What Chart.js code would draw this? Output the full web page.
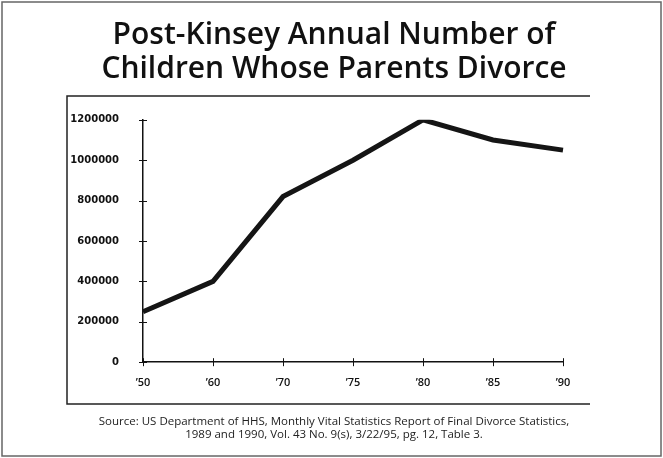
<!DOCTYPE html>
<html>
<head>
<meta charset="utf-8">
<script src="https://cdn.jsdelivr.net/npm/chart.js@4"></script>
<style>
  html, body { margin: 0; padding: 0; background: #fff; }
  #wrap { width: 663px; height: 458px; }
</style>
</head>
<body>
<div id="wrap"><canvas id="chart"></canvas></div>
<script>
const years = ['\u201950', '\u201960', '\u201970', '\u201975', '\u201980', '\u201985', '\u201990'];
const children = [250000, 400000, 820000, 1000000, 1200000, 1100000, 1050000];
const yTicks = [0, 200000, 400000, 600000, 800000, 1000000, 1200000];
const titleLines = ['Post-Kinsey Annual Number of', 'Children Whose Parents Divorce'];
const sourceLines = [
  'Source: US Department of HHS, Monthly Vital Statistics Report of Final Divorce Statistics,',
  '1989 and 1990, Vol. 43 No. 9(s), 3/22/95, pg. 12, Table 3.'
];

// frame around the page and the open-right box round the plot
const frame = {
  id: 'frame',
  beforeDraw(chart) {
    const ctx = chart.ctx;
    ctx.save();
    ctx.strokeStyle = '#666';
    ctx.lineWidth = 1.5;
    ctx.strokeRect(2, 2, 659, 454);
    ctx.strokeStyle = '#222';
    ctx.lineWidth = 1.5;
    ctx.beginPath();
    ctx.moveTo(590, 96);
    ctx.lineTo(67, 96);
    ctx.lineTo(67, 404);
    ctx.lineTo(590, 404);
    ctx.stroke();
    ctx.restore();
  }
};

// tick marks that cross the axis lines
const crossTicks = {
  id: 'crossTicks',
  afterDatasetsDraw(chart) {
    const ctx = chart.ctx;
    const x = chart.scales.x, y = chart.scales.y;
    ctx.save();
    ctx.strokeStyle = '#111';
    ctx.lineWidth = 1;
    ctx.beginPath();
    y.ticks.forEach((t, i) => {
      const py = Math.round(y.getPixelForTick(i)) + 0.5;
      ctx.moveTo(x.left - 4, py);
      ctx.lineTo(x.left + 4, py);
    });
    x.ticks.forEach((t, i) => {
      const px = Math.round(x.getPixelForTick(i)) + 0.5;
      ctx.moveTo(px, y.bottom - 4);
      ctx.lineTo(px, y.bottom + 4);
    });
    ctx.stroke();
    ctx.restore();
  }
};

new Chart(document.getElementById('chart'), {
  type: 'line',
  data: {
    labels: years,
    datasets: [{
      data: children,
      borderColor: '#151515',
      borderWidth: 5,
      pointRadius: 0,
      tension: 0,
      borderCapStyle: 'butt',
      borderJoinStyle: 'miter'
    }]
  },
  options: {
    responsive: true,
    maintainAspectRatio: false,
    animation: false,
    layout: { padding: { left: 67, right: 62, top: 0, bottom: 0 } },
    plugins: {
      legend: { display: false },
      tooltip: { enabled: false },
      title: {
        display: true,
        text: titleLines,
        color: '#111',
        font: { family: 'Open Sans', size: 30, weight: '600', lineHeight: 1.13 },
        padding: { top: 19, bottom: 33 }
      },
      subtitle: {
        display: true,
        position: 'bottom',
        text: sourceLines,
        color: '#222',
        font: { family: 'Open Sans', size: 11.5, lineHeight: 1.2 },
        padding: { top: 11, bottom: 16 }
      }
    },
    scales: {
      x: {
        grid: { display: false, drawTicks: false },
        border: { display: true, color: '#111', width: 1.5 },
        ticks: { color: '#111', font: { family: 'Open Sans', size: 11, weight: '600' }, padding: 14, maxRotation: 0 }
      },
      y: {
        min: 0,
        max: 1200000,
        afterFit(scale) { scale.width = 76; },
        afterBuildTicks(scale) { scale.ticks = yTicks.map(v => ({ value: v })); },
        grid: { display: false, drawTicks: false },
        border: { display: true, color: '#111', width: 1.5 },
        ticks: {
          color: '#111',
          font: { family: 'DejaVu Sans', size: 10, weight: 'bold' },
          padding: 24,
          callback: v => String(v)
        }
      },
      yRight: {
        position: 'right',
        afterFit(scale) { scale.width = 38; },
        grid: { display: false, drawTicks: false },
        border: { display: false },
        ticks: { display: false }
      }
    }
  },
  plugins: [frame, crossTicks]
});
</script>
</body>
</html>
